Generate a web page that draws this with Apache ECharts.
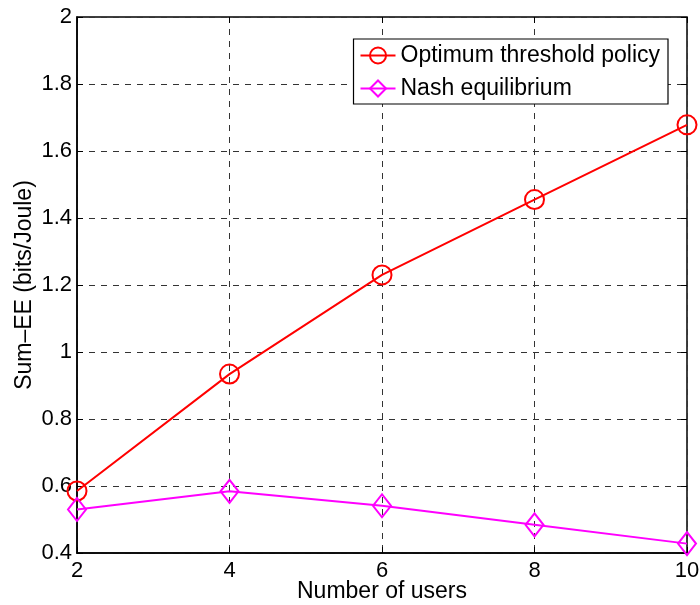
<!DOCTYPE html>
<html><head><meta charset="utf-8">
<script src="https://cdn.jsdelivr.net/npm/echarts@6/dist/echarts.min.js"></script>
<style>html,body{margin:0;padding:0;background:#fff}#c{width:700px;height:605px}</style>
</head><body><div id="c"></div>
<script>
const users = [2, 4, 6, 8, 10];
const optimum = [0.585, 0.934, 1.230, 1.455, 1.678];
const nash = [0.530, 0.584, 0.541, 0.484, 0.428];
const xTicks = [2, 4, 6, 8, 10];
const yTicks = [0.4, 0.6, 0.8, 1, 1.2, 1.4, 1.6, 1.8, 2];

const font = 'Liberation Sans, Arial, Helvetica, sans-serif';
const chart = echarts.init(document.getElementById('c'));
const dashed = {show: true, lineStyle: {color: '#333', type: [6, 6], width: 1}};
const tickIn = {show: true, inside: true, length: 6, lineStyle: {color: '#000', width: 1}};
chart.setOption({
  animation: false,
  grid: {left: 77, top: 17, right: 13, bottom: 52, show: true, borderColor: '#000', borderWidth: 1.5,
         containLabel: false, outerBoundsMode: 'none'},
  legend: {
    right: 32, top: 39, orient: 'vertical', itemGap: 10,
    backgroundColor: '#fff', borderColor: '#000', borderWidth: 1.2, padding: [5, 8, 4, 6],
    itemWidth: 35, itemHeight: 20,
    textStyle: {fontFamily: font, fontSize: 23, color: '#000'},
    data: ['Optimum threshold policy', 'Nash equilibrium']
  },
  xAxis: [{
    type: 'value', min: 2, max: 10, interval: 2,
    name: 'Number of users', nameLocation: 'middle', nameGap: 27, nameMoveOverlap: false,
    nameTextStyle: {fontFamily: font, fontSize: 23, color: '#000'},
    axisLine: {show: true, lineStyle: {color: '#000', width: 1.5}},
    axisTick: tickIn, splitLine: dashed,
    axisLabel: {fontFamily: font, fontSize: 22, color: '#000', margin: 7,
      formatter: v => xTicks.includes(v) ? String(v) : ''}
  }, {
    type: 'value', position: 'top', min: 2, max: 10, interval: 2,
    axisLine: {show: false}, axisTick: tickIn, axisLabel: {show: false}, splitLine: {show: false}
  }],
  yAxis: [{
    type: 'value', min: 0.4, max: 2, interval: 0.2,
    name: 'Sum\u2013EE (bits/Joule)', nameLocation: 'middle', nameGap: 41, nameMoveOverlap: false,
    nameTextStyle: {fontFamily: font, fontSize: 23, color: '#000'},
    axisLine: {show: true, lineStyle: {color: '#000', width: 1.5}},
    axisTick: tickIn, splitLine: dashed,
    axisLabel: {fontFamily: font, fontSize: 22, color: '#000', margin: 5,
      formatter: v => { const r = Math.round(v * 10) / 10; return yTicks.includes(r) ? String(r) : ''; }}
  }, {
    type: 'value', position: 'right', min: 0.4, max: 2, interval: 0.2,
    axisLine: {show: false}, axisTick: tickIn, axisLabel: {show: false}, splitLine: {show: false}
  }],
  series: [{
    name: 'Optimum threshold policy', type: 'line',
    data: users.map((u, i) => [u, optimum[i]]),
    symbol: 'circle', symbolSize: 19, showAllSymbol: true,
    lineStyle: {color: '#ff0000', width: 2},
    itemStyle: {color: 'rgba(255,255,255,0)', borderColor: '#ff0000', borderWidth: 2},
    color: '#ff0000', z: 3
  }, {
    name: 'Nash equilibrium', type: 'line',
    data: users.map((u, i) => [u, nash[i]]),
    symbol: 'diamond', symbolSize: [18, 23], showAllSymbol: true,
    lineStyle: {color: '#ff00ff', width: 2},
    itemStyle: {color: 'rgba(255,255,255,0)', borderColor: '#ff00ff', borderWidth: 2},
    color: '#ff00ff', z: 3
  }]
});
</script></body></html>
